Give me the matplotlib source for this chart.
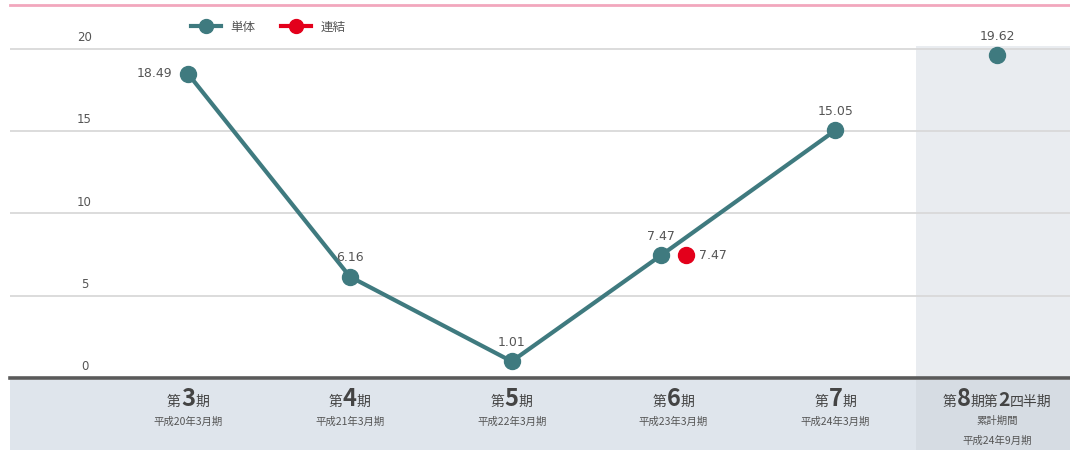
import matplotlib
matplotlib.use("Agg")
import matplotlib.pyplot as plt
from matplotlib.lines import Line2D
from matplotlib.transforms import offset_copy

plt.rcParams['font.family'] = ['Noto Sans CJK JP', 'DejaVu Sans']

# 経常利益率の推移 (単位: %)
periods = ['第3期', '第4期', '第5期', '第6期', '第7期', '第8期第2四半期累計期間']
tanntai = [18.49, 6.16, 1.01, 7.47, 15.05, 19.62]   # 単体
renketsu_idx = 3
renketsu = 7.47                                       # 連結 (第6期のみ)

# 期ラベル: (小, 大, 小) の組み合わせ
head_parts = [
    [('第', 10), ('3', 17), ('期', 10)],
    [('第', 10), ('4', 17), ('期', 10)],
    [('第', 10), ('5', 17), ('期', 10)],
    [('第', 10), ('6', 17), ('期', 10)],
    [('第', 10), ('7', 17), ('期', 10)],
    [('第', 10), ('8', 17), ('期第', 10), ('2', 14), ('四半期', 10)],
]
sub_lines = [
    ['平成20年3月期'],
    ['平成21年3月期'],
    ['平成22年3月期'],
    ['平成23年3月期'],
    ['平成24年3月期'],
    ['累計期間', '平成24年9月期'],
]

TEAL = '#3f7a7f'
RED = '#e3001b'
GREY = '#555555'

W, H = 1070, 450
fig = plt.figure(figsize=(W / 100, H / 100), dpi=100)

left, right = 10 / W, 1.0
ax = fig.add_axes([left, 72 / H, right - left, (378 - 5) / H])
band = fig.add_axes([left, 0, right - left, 70 / H])

xmin, xmax = -1.1, 5.45
ax.set_xlim(xmin, xmax)
ax.set_ylim(0, 22.67)
band.set_xlim(xmin, xmax)
band.set_ylim(0, 1)

# 第8期の背景
ax.axvspan(4.5, xmax, ymin=0, ymax=20.2 / 22.67, color='#e9ecf0', zorder=0, lw=0)
band.set_facecolor('#dfe5ec')
band.axvspan(4.5, xmax, color='#d6dce3', lw=0)

# 目盛り線とラベル
for v in [5, 10, 15, 20]:
    ax.axhline(v, color='#d9d9d9', lw=1.3, zorder=1)
for v in [0, 5, 10, 15, 20]:
    ax.text(-0.64, v + 0.3, str(v), ha='center', va='bottom', fontsize=8.5,
            color=GREY, family='DejaVu Sans')

for s in ['left', 'right']:
    ax.spines[s].set_visible(False)
ax.spines['bottom'].set_color('#5a5a5a')
ax.spines['bottom'].set_linewidth(2.6)
ax.spines['top'].set_color('#f2a7bd')
ax.spines['top'].set_linewidth(2)
ax.set_xticks([])
ax.set_yticks([])
for s in band.spines.values():
    s.set_visible(False)
band.set_xticks([])
band.set_yticks([])

# 単体の線 (第3期〜第7期) と第8期の点
xs = [float(i) for i in range(len(tanntai))]
xs[renketsu_idx] -= 0.075
ax.plot(xs[:5], tanntai[:5], color=TEAL, lw=3, marker='o', ms=11.5,
        zorder=3, clip_on=False)
ax.plot(xs[5], tanntai[5], color=TEAL, marker='o', ms=11.5, zorder=3, clip_on=False)
ax.plot(renketsu_idx + 0.08, renketsu, color=RED, marker='o', ms=11.5, zorder=3, clip_on=False)

# 数値ラベル
for i, (x, v) in enumerate(zip(xs, tanntai)):
    if i == 0:
        ax.annotate(f'{v:.2f}', (x, v), xytext=(-11, 0), textcoords='offset points',
                    ha='right', va='center', fontsize=9, color=GREY, family='DejaVu Sans')
    else:
        ax.annotate(f'{v:.2f}', (x, v), xytext=(0, 9), textcoords='offset points',
                    ha='center', va='bottom', fontsize=9, color=GREY, family='DejaVu Sans')
ax.annotate(f'{renketsu:.2f}', (renketsu_idx + 0.08, renketsu), xytext=(9, 0),
            textcoords='offset points', ha='left', va='center', fontsize=9,
            color=GREY, family='DejaVu Sans')

# 凡例
handles = [
    Line2D([], [], color=TEAL, lw=3, marker='o', ms=10),
    Line2D([], [], color=RED, lw=3, marker='o', ms=10),
]
ax.legend(handles, ['単体', '連結'], ncol=2, frameon=False, fontsize=9,
          loc='center', bbox_to_anchor=(268 / W, 1 - 27 / H), bbox_transform=fig.transFigure,
          handlelength=2.4, columnspacing=2.0, labelcolor=GREY)

# 期ラベル (大きさの異なる文字を横に並べる)
renderer = fig.canvas.get_renderer()


def rich_text(axis, x, y, parts):
    texts = []
    total = 0.0
    for s, size in parts:
        t = axis.text(x, y, s, fontsize=size, color='#444444', ha='left', va='baseline',
                      transform=axis.get_xaxis_transform(),
                      fontweight='bold' if s.isdigit() else 'normal')
        w = t.get_window_extent(renderer).width
        texts.append((t, w))
        total += w
    offset = -total / 2
    for t, w in texts:
        t.set_transform(offset_copy(axis.get_xaxis_transform(), fig=fig,
                                    x=offset * 72 / fig.dpi, y=0, units='points'))
        offset += w


for i in range(len(periods)):
    rich_text(band, i, 0.63, head_parts[i])
    for j, line in enumerate(sub_lines[i]):
        band.text(i, 0.41 - j * 0.28, line, ha='center', va='center', fontsize=7.5,
                  color='#555555', transform=band.get_xaxis_transform())

fig.savefig('out.png', dpi=100)
